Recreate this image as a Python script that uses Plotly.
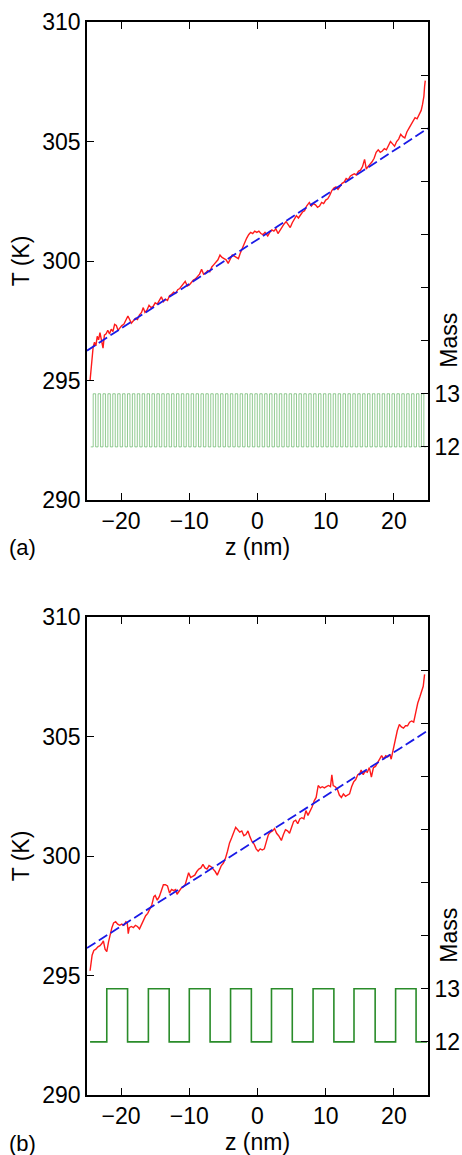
import numpy as np
import plotly.graph_objects as go

# ---------------- data ----------------
# Panel (a): temperature profile (z in nm, T in K)
z_a = [-24.55, -24.4, -24.25, -24.1, -23.9, -23.7, -23.5, -23.3, -23.1, -22.9, -22.65, -22.45, -22.2, -21.95,
       -21.7, -21.45, -21.2, -20.95, -20.7, -20.45, -20.2, -19.9, -19.6, -19.3, -19.0, -18.75, -18.5, -18.2,
       -17.9, -17.6, -17.3, -17.0, -16.75, -16.5, -16.2, -15.9, -15.6, -15.3, -15.0, -14.7, -14.4, -14.1,
       -13.8, -13.5, -13.2, -12.9, -12.6, -12.3, -12.0, -11.7, -11.4, -11.1, -10.8, -10.6, -10.3, -10.0,
       -9.7, -9.4, -9.1, -8.8, -8.5, -8.2, -7.9, -7.6, -7.3, -7.0, -6.7, -6.4, -6.1, -5.8, -5.5, -5.2,
       -4.9, -4.6, -4.3, -4.0, -3.7, -3.4, -3.1, -2.8, -2.5, -2.2, -1.9, -1.6, -1.3, -1.0, -0.7, -0.4,
       -0.1, 0.2, 0.5, 0.8, 1.1, 1.5, 1.8, 2.1, 2.4, 2.7, 3.0, 3.3, 3.6, 3.9, 4.2, 4.5, 4.8, 5.1, 5.4,
       5.7, 6.0, 6.3, 6.6, 6.9, 7.2, 7.6, 7.9, 8.2, 8.5, 8.8, 9.1, 9.4, 9.7, 10.0, 10.3, 10.6, 10.9,
       11.2, 11.5, 11.8, 12.1, 12.4, 12.7, 13.0, 13.3, 13.6, 13.9, 14.2, 14.5, 14.8, 15.1, 15.4, 15.7,
       15.95, 16.2, 16.5, 16.8, 17.1, 17.4, 17.7, 18.0, 18.3, 18.6, 18.9, 19.2, 19.5, 19.8, 20.1, 20.4,
       20.7, 21.0, 21.3, 21.6, 21.9, 22.2, 22.5, 22.8, 23.1, 23.4, 23.7, 24.0, 24.2, 24.4, 24.5, 24.6]
T_a = [295.0, 295.5, 296.1, 296.4, 296.6, 296.45, 296.85, 296.7, 297.0, 296.75, 296.35, 296.9, 296.95, 297.1,
       296.95, 297.15, 297.05, 297.35, 297.3, 297.1, 297.2, 297.3, 297.35, 297.55, 297.7, 297.55, 297.4, 297.5,
       297.6, 297.55, 297.75, 297.85, 298.05, 297.85, 297.95, 298.15, 298.05, 298.1, 298.25, 298.2, 298.35, 298.5,
       298.3, 298.4, 298.35, 298.55, 298.6, 298.7, 298.65, 298.8, 298.85, 298.95, 299.05, 299.15, 298.95, 299.0,
       299.1, 299.2, 299.25, 299.35, 299.45, 299.65, 299.45, 299.5, 299.6, 299.55, 299.75, 299.85, 299.95, 300.05, 300.25, 300.15,
       300.1, 300.05, 299.9, 300.1, 300.25, 300.2, 300.15, 300.1, 300.35, 300.55, 300.8, 300.95, 301.1, 301.2, 301.15, 301.25,
       301.2, 301.25, 301.15, 301.1, 301.2, 301.05, 301.2, 301.3, 301.25, 301.35, 301.15, 301.3, 301.4, 301.55, 301.65, 301.5, 301.4, 301.6, 301.75,
       301.9, 301.8, 301.95, 302.05, 302.1, 302.3, 302.45, 302.3, 302.4, 302.35, 302.25, 302.3, 302.45, 302.4, 302.55, 302.6, 302.75, 302.95,
       303.05, 303.1, 303.0, 303.15, 303.25, 303.3, 303.45, 303.4, 303.55, 303.6, 303.65, 303.6, 303.75, 303.8, 303.95, 304.25,
       303.85, 303.95, 304.05, 304.15, 304.3, 304.55, 304.65, 304.55, 304.6, 304.7, 304.65, 304.85, 305.0, 304.9, 304.8, 305.0,
       305.1, 305.3, 305.2, 305.15, 305.4, 305.55, 305.7, 305.85, 306.0, 305.95, 306.15, 306.3, 306.55, 306.9, 307.3, 307.55]

# Panel (b): temperature profile
z_b = [-24.55, -24.4, -24.25, -24.0, -23.7, -23.4, -23.1, -22.8, -22.6, -22.35, -22.1, -21.85, -21.6, -21.35,
       -21.1, -20.8, -20.5, -20.2, -19.9, -19.6, -19.3, -19.1, -18.95, -18.8, -18.5, -18.2, -17.9, -17.6,
       -17.3, -17.0, -16.7, -16.4, -16.1, -15.8, -15.5, -15.2, -15.0, -14.7, -14.4, -14.1, -13.8, -13.5,
       -13.2, -12.9, -12.6, -12.3, -12.0, -11.8, -11.5, -11.2, -10.9, -10.6, -10.3, -10.1, -9.8, -9.5,
       -9.2, -8.9, -8.6, -8.3, -8.0, -7.7, -7.4, -7.1, -6.8, -6.5, -6.2, -5.9, -5.6, -5.3, -5.0, -4.7,
       -4.4, -4.1, -3.8, -3.5, -3.2, -2.9, -2.6, -2.3, -2.0, -1.7, -1.4, -1.1, -0.8, -0.5, -0.2, 0.1,
       0.4, 0.7, 1.0, 1.3, 1.6, 1.9, 2.2, 2.5, 2.8, 3.1, 3.5, 3.8, 4.1, 4.4, 4.7, 5.0, 5.3, 5.6, 5.9,
       6.2, 6.5, 6.8, 7.1, 7.4, 7.7, 8.0, 8.3, 8.6, 8.9, 9.2, 9.5, 9.8, 10.1, 10.4, 10.7, 10.9, 11.1,
       11.4, 11.7, 12.0, 12.3, 12.6, 12.9, 13.2, 13.5, 13.8, 14.1, 14.4, 14.7, 15.0, 15.2, 15.5, 15.8,
       16.1, 16.4, 16.7, 17.0, 17.3, 17.6, 17.9, 18.2, 18.5, 18.8, 19.1, 19.4, 19.6, 19.9, 20.2, 20.5,
       20.8, 21.1, 21.4, 21.7, 22.0, 22.3, 22.6, 22.9, 23.2, 23.5, 23.8, 24.1, 24.3, 24.5]
T_b = [295.2, 295.6, 295.85, 296.05, 296.1, 296.2, 296.25, 296.35, 296.45, 296.1, 296.0, 296.4, 296.75, 297.0,
       297.2, 297.25, 297.15, 297.1, 297.15, 297.1, 297.25, 297.2, 296.75, 297.0, 297.05, 297.0, 297.1, 297.05,
       296.95, 297.15, 297.35, 297.5, 297.6, 297.75, 297.95, 298.3, 298.35, 298.15, 298.3, 298.55, 298.8, 298.8,
       298.75, 298.45, 298.6, 298.55, 298.6, 298.4, 298.55, 298.65, 298.7, 298.8, 299.1, 299.3, 299.1, 299.15,
       299.2, 299.35, 299.45, 299.5, 299.65, 299.5, 299.45, 299.6, 299.55, 299.45, 299.35, 299.2, 299.4, 299.6, 299.7, 299.9,
       300.2, 300.55, 300.75, 301.0, 301.2, 301.1, 301.0, 301.05, 300.85, 300.9, 301.05, 300.8, 300.6, 300.5, 300.3, 300.2,
       300.3, 300.25, 300.3, 300.6, 300.9, 301.0, 301.05, 301.15, 300.95, 300.85, 300.65, 300.9, 301.1, 301.05, 300.95, 301.2, 301.45, 301.5, 301.35,
       301.55, 301.6, 301.55, 301.9, 301.7, 301.85, 302.05, 302.3, 302.45, 302.95, 302.85, 302.9, 302.85, 302.9, 302.95, 302.9, 303.4, 302.95,
       302.9, 302.8, 302.55, 302.45, 302.6, 302.5, 302.55, 302.6, 302.9, 303.1, 303.2, 303.4, 303.45, 303.6, 303.4, 303.55,
       303.5, 303.7, 303.3, 303.7, 303.75, 303.9, 304.0, 304.2, 304.05, 304.2, 304.15, 304.25, 304.05, 304.5, 304.95, 305.25,
       305.5, 305.4, 305.35, 305.45, 305.45, 305.6, 305.65, 305.6, 306.0, 306.4, 306.65, 306.95, 307.1, 307.6]

# Linear fits (end points read at z = -25 and z = 25)
fit_z = [-25, 25]
fit_a = [296.25, 305.55]
fit_b = [296.15, 305.25]

# Mass profile (a): fine superlattice, one value per layer
layer_a_start, layer_a_end = -24.45, 24.75
mass_a = [12, 13, 12, 13, 12, 13, 12, 13, 12, 13, 12, 13, 12, 13, 12, 13, 12, 13, 12, 13,
          12, 13, 12, 13, 12, 13, 12, 13, 12, 13, 12, 13, 12, 13, 12, 13, 12, 13, 12, 13,
          12, 13, 12, 13, 12, 13, 12, 13, 12, 13, 12, 13, 12, 13, 12, 13, 12, 13, 12, 13,
          12, 13, 12, 13, 12, 13, 12, 13, 12, 13, 12, 13, 12, 13, 12, 13, 12, 13, 12, 13,
          12, 13, 12, 13, 12, 13, 12, 13, 12, 13, 12, 13, 12, 13, 12, 13, 12, 13, 12, 13,
          12, 13, 12, 13, 12, 13, 12, 13, 12, 13, 12, 13, 12, 13, 12, 13, 12, 13, 12, 13,
          12, 13, 12, 13, 12, 13, 12, 13, 12, 13, 12, 13, 12, 13, 12, 13, 12]

# Mass profile (b): coarse superlattice, layer edges and values
edges_b = [-24.55, -22.1, -19.05, -16.0, -12.95, -10.0, -6.95, -3.95, -0.9, 2.05, 5.1, 8.15,
           11.2, 14.15, 17.25, 20.25, 23.25, 24.85]
mass_b = [12, 13, 12, 13, 12, 13, 12, 13, 12, 13, 12, 13, 12, 13, 12, 13, 12]

# ---------------- figure ----------------
FONT = "Liberation Sans, Arial, Helvetica, sans-serif"
RED = "#ff1a1a"
BLUE = "#1a1ae6"
GREEN = "#2a8c2a"
GREEN_LIGHT = "#4aa84a"

edges_a = np.linspace(layer_a_start, layer_a_end, len(mass_a) + 1)
xa_step = list(edges_a)
ya_step = list(mass_a) + [mass_a[-1]]
xb_step = list(edges_b)
yb_step = list(mass_b) + [mass_b[-1]]

fig = go.Figure()
# panel a
fig.add_trace(go.Scatter(x=xa_step, y=ya_step, xaxis="x", yaxis="y2", mode="lines",
                         line=dict(color=GREEN_LIGHT, width=0.6, shape="hv"), showlegend=False))
fig.add_trace(go.Scatter(x=z_a, y=T_a, xaxis="x", yaxis="y", mode="lines",
                         line=dict(color=RED, width=1.4), showlegend=False))
fig.add_trace(go.Scatter(x=fit_z, y=fit_a, xaxis="x", yaxis="y", mode="lines",
                         line=dict(color=BLUE, width=1.8, dash="10px,4px"), showlegend=False))
# panel b
fig.add_trace(go.Scatter(x=xb_step, y=yb_step, xaxis="x2", yaxis="y4", mode="lines",
                         line=dict(color=GREEN, width=1.6, shape="hv"), showlegend=False))
fig.add_trace(go.Scatter(x=z_b, y=T_b, xaxis="x2", yaxis="y3", mode="lines",
                         line=dict(color=RED, width=1.4), showlegend=False))
fig.add_trace(go.Scatter(x=fit_z, y=fit_b, xaxis="x2", yaxis="y3", mode="lines",
                         line=dict(color=BLUE, width=1.8, dash="10px,4px"), showlegend=False))

W, H = 462, 1155
L, R, T, B = 87, 462 - 428, 22, 1155 - 1095
pw = W - L - R
ph = H - T - B
dom_a = [(1095 - 500) / ph, 1.0]
dom_b = [0.0, (1095 - 617) / ph]

axis_common = dict(showline=True, linewidth=1.6, linecolor="black", ticks="inside",
                   ticklen=7, tickwidth=1.4, tickcolor="black", showgrid=False,
                   zeroline=False, tickfont=dict(size=23, color="black", family=FONT))

def xax(anchor):
    return dict(axis_common, anchor=anchor, domain=[0, 1], range=[-25, 25],
                tickvals=[-20, -10, 0, 10, 20], mirror="ticks",
                title=dict(text="z (nm)", font=dict(size=23, color="black", family=FONT), standoff=3),
                automargin=False)

def yax(anchor, dom):
    return dict(axis_common, anchor=anchor, domain=dom, range=[290, 310],
                tickvals=[290, 295, 300, 305, 310],
                title=dict(text="T (K)", font=dict(size=23, color="black", family=FONT), standoff=6),
                automargin=False)

mass_ticks = list(range(11, 21))
mass_text = ["" if v not in (12, 13) else str(v) for v in mass_ticks]

def max_(over, anchor):
    return dict(axis_common, overlaying=over, anchor=anchor, side="right", range=[11, 20],
                tickvals=mass_ticks, ticktext=mass_text, automargin=False)

MASS_X = (449 - L) / pw

fig.update_layout(
    width=W, height=H,
    margin=dict(l=L, r=R, t=T, b=B),
    paper_bgcolor="white", plot_bgcolor="white",
    font=dict(family=FONT, size=23, color="black"),
    xaxis=xax("y"), yaxis=yax("x", dom_a), yaxis2=max_("y", "x"),
    xaxis2=xax("y3"), yaxis3=yax("x2", dom_b), yaxis4=max_("y3", "x2"),
    annotations=[
        dict(text="Mass", xref="paper", yref="y2", x=MASS_X, y=14,
             xanchor="center", yanchor="middle", borderpad=0,
             textangle=-90, showarrow=False, font=dict(size=23)),
        dict(text="Mass", xref="paper", yref="y4", x=MASS_X, y=14,
             xanchor="center", yanchor="middle", borderpad=0,
             textangle=-90, showarrow=False, font=dict(size=23)),
        dict(text="(a)", xref="paper", yref="paper", x=(22 - L) / pw,
             y=(1095 - 547) / ph, xanchor="center", yanchor="middle",
             showarrow=False, font=dict(size=22)),
        dict(text="(b)", xref="paper", yref="paper", x=(22 - L) / pw,
             y=(1095 - 1143) / ph, xanchor="center", yanchor="middle",
             showarrow=False, font=dict(size=22)),
    ],
)

# remove the browser's default body margin so the figure fills the window exactly
fig.write_html("out.html", config={"displayModeBar": False},
               post_script="document.body.style.margin='0';document.body.style.overflow='hidden';")
